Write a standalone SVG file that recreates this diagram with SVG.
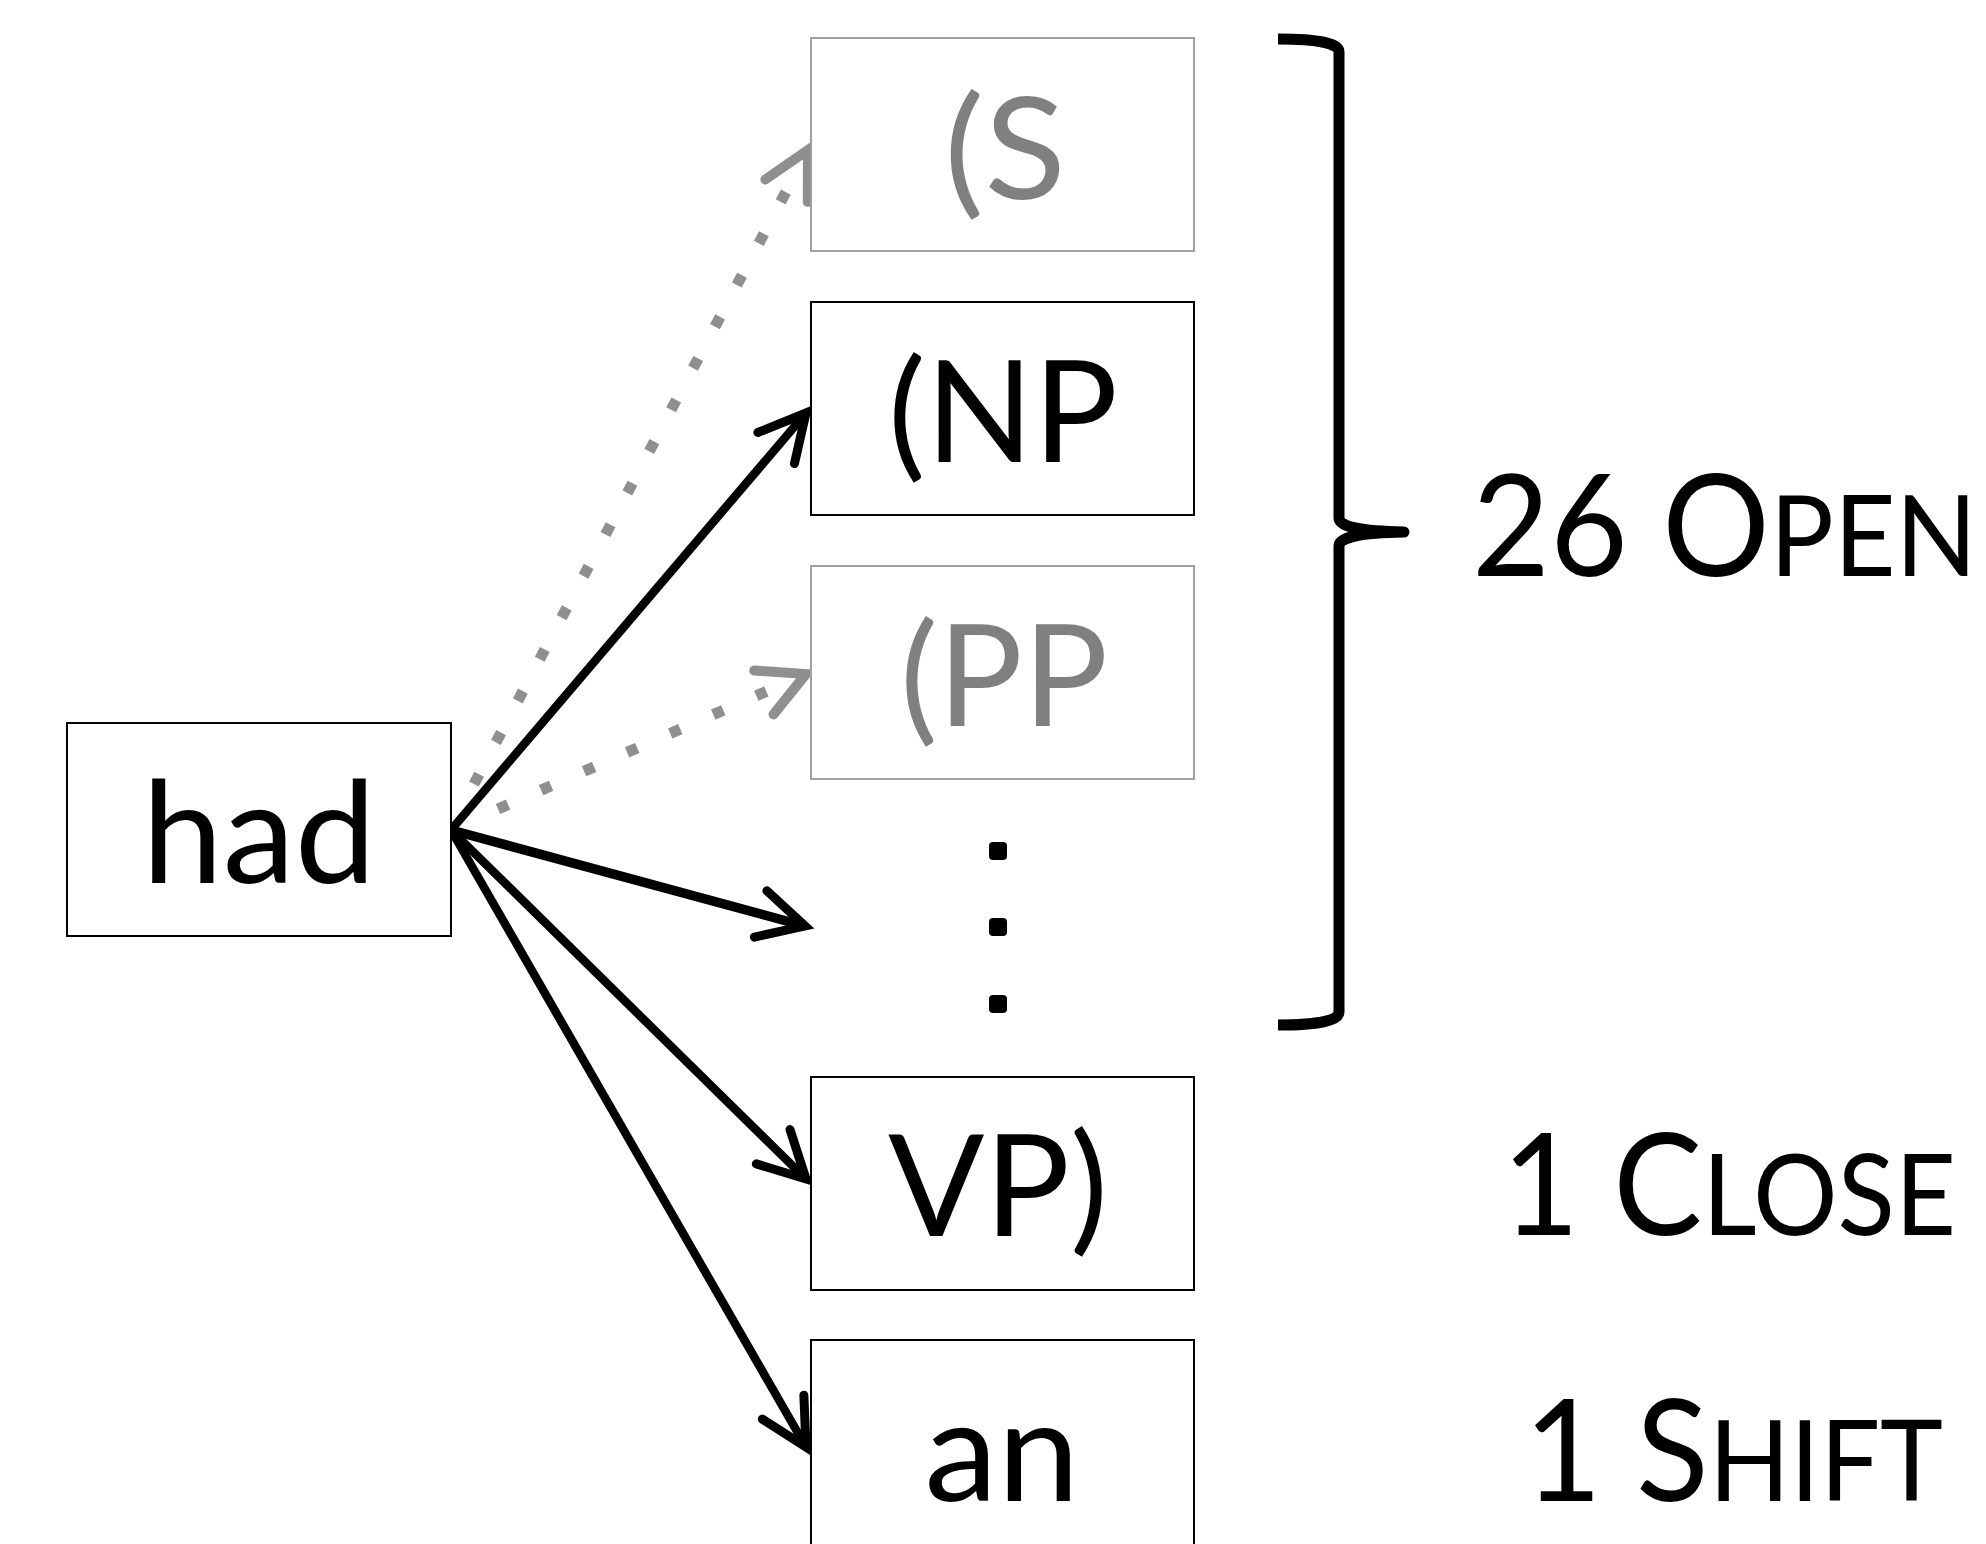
<svg xmlns="http://www.w3.org/2000/svg" width="1986" height="1544" viewBox="0 0 1986 1544">
<style>
.box{fill:#fff;stroke:#000;stroke-width:2}
.gbox{fill:#fff;stroke:#a0a0a0;stroke-width:2}
.lbl{font-family:Lato,"Open Sans","Liberation Sans",sans-serif;font-size:142px;fill:#000;text-anchor:middle}
.glbl{font-family:Lato,"Open Sans","Liberation Sans",sans-serif;font-size:142px;fill:#808080;text-anchor:middle}
.side{font-family:Lato,"Open Sans","Liberation Sans",sans-serif;font-size:141px;fill:#000}
.sc{font-size:112px}
.edge{fill:none;stroke:#000;stroke-width:8.5}
.gedge{fill:none;stroke:#8f8f8f;stroke-width:11;stroke-dasharray:11 36}
</style>
<defs>
<marker id="ah" markerUnits="userSpaceOnUse" orient="auto" refX="0" refY="0" markerWidth="60" markerHeight="60" overflow="visible">
<path d="M-46,-24 L0,0 L-46,24" fill="none" stroke="#000" stroke-width="9" stroke-linecap="round" stroke-linejoin="miter"/>
</marker>
<marker id="gah" markerUnits="userSpaceOnUse" orient="auto" refX="0" refY="0" markerWidth="60" markerHeight="60" overflow="visible">
<path d="M-46,-24 L0,0 L-46,24" fill="none" stroke="#8f8f8f" stroke-width="10" stroke-linecap="round" stroke-linejoin="miter"/>
</marker>
</defs>
<rect width="1986" height="1544" fill="#fff"/>
<g id="connectors">
<line class="gedge" x1="474" y1="784" x2="808" y2="150" marker-end="url(#gah)"/>
<line class="gedge" x1="498" y1="809" x2="806" y2="674" marker-end="url(#gah)"/>
<line class="edge" x1="451" y1="830" x2="806" y2="413" marker-end="url(#ah)"/>
<line class="edge" x1="451" y1="830" x2="805" y2="926" style="stroke-width:9.5" marker-end="url(#ah)"/>
<line class="edge" x1="451" y1="830" x2="806" y2="1179" marker-end="url(#ah)"/>
<line class="edge" x1="451" y1="830" x2="806" y2="1447" marker-end="url(#ah)"/>
</g>
<g id="node-had">
<rect class="box" x="67" y="723" width="384" height="213"/>
<text class="lbl" x="259" y="883" textLength="234" lengthAdjust="spacingAndGlyphs">had</text>
</g>
<g id="node-S">
<rect class="gbox" x="811" y="38" width="383" height="213"/>
<text class="glbl" x="1005" y="199" textLength="122" lengthAdjust="spacingAndGlyphs">(S</text>
</g>
<g id="node-NP">
<rect class="box" x="811" y="302" width="383" height="213"/>
<text class="lbl" x="1003" y="462" textLength="230" lengthAdjust="spacingAndGlyphs">(NP</text>
</g>
<g id="node-PP">
<rect class="gbox" x="811" y="566" width="383" height="213"/>
<text class="glbl" x="1004" y="726" textLength="208" lengthAdjust="spacingAndGlyphs">(PP</text>
</g>
<g id="ellipsis">
<rect x="989" y="842" width="18" height="18" rx="4" fill="#000"/>
<rect x="989" y="918" width="18" height="18" rx="4" fill="#000"/>
<rect x="989" y="995" width="18" height="18" rx="4" fill="#000"/>
</g>
<g id="node-VP">
<rect class="box" x="811" y="1077" width="383" height="213"/>
<text class="lbl" x="998" y="1236" textLength="220" lengthAdjust="spacingAndGlyphs">VP)</text>
</g>
<g id="node-an">
<rect class="box" x="811" y="1340" width="383" height="230"/>
<text class="lbl" x="1002" y="1501" textLength="155" lengthAdjust="spacingAndGlyphs">an</text>
</g>
<g id="brace">
<path d="M1278,39 Q1339,39 1339,52 L1339,518 Q1339,531 1404,532 Q1339,533 1339,546 L1339,1012 Q1339,1025 1278,1025" fill="none" stroke="#000" stroke-width="11" stroke-linejoin="round"/>
</g>
<g id="labels">
<text class="side" x="1472" y="576" textLength="505" lengthAdjust="spacingAndGlyphs">26 O<tspan class="sc">PEN</tspan></text>
<text class="side" x="1502" y="1235" textLength="454" lengthAdjust="spacingAndGlyphs">1 C<tspan class="sc">LOSE</tspan></text>
<text class="side" x="1524" y="1501" textLength="419" lengthAdjust="spacingAndGlyphs">1 S<tspan class="sc">HIFT</tspan></text>
</g>
</svg>
